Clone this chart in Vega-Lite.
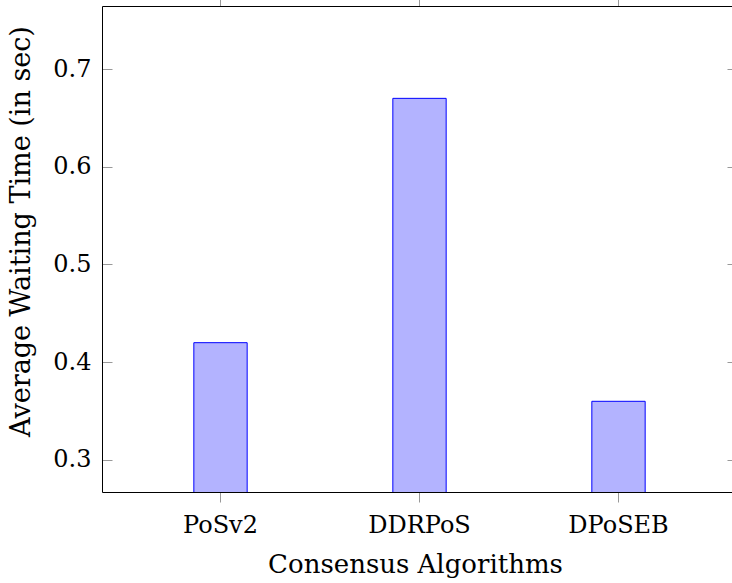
{
  "$schema": "https://vega.github.io/schema/vega-lite/v6.json",
  "width": 635,
  "height": 486,
  "autosize": "none",
  "padding": {"left": 102, "top": 6, "right": 0, "bottom": 91},
  "background": "white",
  "config": {
    "view": {"stroke": null},
    "font": "DejaVu Serif",
    "axis": {
      "grid": false,
      "domainColor": "#000000",
      "domainWidth": 1,
      "tickColor": "#999999",
      "tickWidth": 1,
      "labelColor": "#000000",
      "titleColor": "#000000",
      "labelFont": "DejaVu Serif",
      "titleFont": "DejaVu Serif",
      "labelFontSize": 24,
      "titleFontSize": 26,
      "titleFontWeight": "normal"
    }
  },
  "data": {
    "values": [
      {"algorithm": "PoSv2", "time": 0.42},
      {"algorithm": "DDRPoS", "time": 0.67},
      {"algorithm": "DPoSEB", "time": 0.36}
    ]
  },
  "layer": [
    {
      "mark": {"type": "bar", "fill": "#b3b3ff", "stroke": "#0000ff", "strokeWidth": 1, "clip": true},
      "encoding": {
        "x": {
          "field": "algorithm",
          "type": "nominal",
          "sort": null,
          "scale": {"paddingInner": 0.732, "paddingOuter": 0.4615},
          "axis": {
            "orient": "bottom",
            "title": "Consensus Algorithms",
            "labelAngle": 0,
            "tickSize": 10,
            "labelPadding": 30,
            "labelBaseline": "alphabetic",
            "titleX": 313,
            "titleY": 80,
            "titleBaseline": "alphabetic",
            "titleAlign": "center"
          }
        },
        "y": {
          "field": "time",
          "type": "quantitative",
          "scale": {"domain": [0.2672, 0.7645], "nice": false, "zero": false},
          "axis": {
            "orient": "left",
            "title": "Average Waiting Time (in sec)",
            "titleFontSize": 27,
            "values": [0.3, 0.4, 0.5, 0.6, 0.7],
            "format": ".1f",
            "tickSize": -10,
            "labelPadding": 21,
            "titleAngle": -90,
            "titleX": -73,
            "titleY": 225,
            "titleBaseline": "alphabetic",
            "titleAlign": "center"
          }
        }
      }
    },
    {
      "mark": {"type": "bar", "opacity": 0, "clip": true},
      "encoding": {
        "x": {
          "field": "algorithm",
          "type": "nominal",
          "sort": null,
          "axis": {"orient": "top", "title": null, "labels": false, "tickSize": 10}
        },
        "y": {
          "field": "time",
          "type": "quantitative",
          "axis": {
            "orient": "right",
            "title": null,
            "labels": false,
            "values": [0.3, 0.4, 0.5, 0.6, 0.7],
            "tickSize": -10
          }
        }
      }
    }
  ],
  "resolve": {"axis": {"x": "independent", "y": "independent"}}
}
